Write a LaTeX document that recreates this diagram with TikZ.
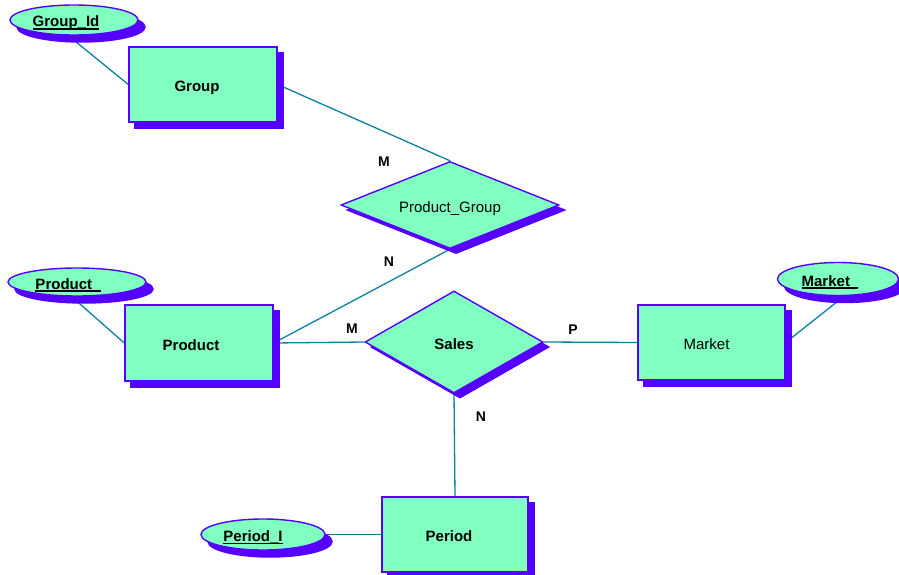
\documentclass[tikz,border=0pt]{standalone}
\usepackage{fontspec}
\setmainfont{Liberation Sans}
\usetikzlibrary{shapes.geometric,shadows,backgrounds}

\definecolor{entfill}{RGB}{128,255,192}
\definecolor{entedge}{RGB}{85,0,255}
\definecolor{linkc}{RGB}{10,128,165}

% underlined key attribute with a heavier rule
\newcommand\keyattr[1]{\setbox0\hbox{#1}\rlap{\rule[-2.6pt]{\wd0}{1.6pt}}\box0}

\tikzset{
  basefont/.style={font=\fontsize{15}{18}\selectfont, text height=14pt, text depth=0pt},
  entity/.style={rectangle, draw=entedge, line width=1.4pt, fill=entfill,
    inner sep=0pt, basefont,
    copy shadow={shadow xshift=6pt, shadow yshift=-6pt, draw=entedge, fill=entedge}},
  relation/.style={diamond, draw=entedge, line width=1.4pt, fill=entfill,
    inner sep=0pt, basefont,
    copy shadow={shadow xshift=6pt, shadow yshift=-5pt, draw=entedge, fill=entedge}},
  attrib/.style={ellipse, draw=entedge, line width=1.4pt, fill=entfill,
    inner sep=0pt, basefont,
    copy shadow={shadow xshift=7pt, shadow yshift=-7pt, draw=entedge, fill=entedge}},
  link/.style={draw=linkc, line width=1.3pt},
  card/.style={font=\fontsize{14}{16}\selectfont\bfseries, inner sep=0pt}
}

\begin{document}
\begin{tikzpicture}[x=1pt,y=-1pt]
\useasboundingbox (0,0) rectangle (899,575);

% entities
\node[entity, minimum width=148pt, minimum height=75pt] (group)   at (203,84.5) {\bfseries Group\kern12pt};
\node[entity, minimum width=148pt, minimum height=76pt] (product) at (199,343)  {\bfseries Product\kern16pt};
\node[entity, minimum width=147pt, minimum height=75pt] (market)  at (711.5,342.5) {Market\kern10pt};
\node[entity, minimum width=146pt, minimum height=75pt] (period)  at (455,534.5) {\bfseries Period\kern12pt};

% relationships
\node[relation, aspect=2.5, minimum width=218pt, minimum height=87pt] (pg) at (450,205) {Product\_Group};
\node[relation, aspect=1.75, minimum width=178pt, minimum height=102pt] (sales) at (454,342) {\bfseries Sales};

% key attributes
\node[attrib, minimum width=128pt, minimum height=30pt] (gid) at (74,20)  {\bfseries\keyattr{Group\_Id}\kern16pt};
\node[attrib, minimum width=138pt, minimum height=28pt] (pid) at (77,282) {\bfseries\keyattr{Product\_}\kern18pt};
\node[attrib, minimum width=121pt, minimum height=33pt] (mid) at (838,279) {\bfseries\keyattr{Market\_}\kern16pt};
\node[attrib, minimum width=124pt, minimum height=31pt] (tid) at (263,534.5) {\bfseries\keyattr{Period\_I}\kern20pt};

% connectors behind the shapes
\begin{pgfonlayer}{background}
  \draw[link] (gid.250) -- (group.west);
  \draw[link] (group.east) -- (pg.north);
  \draw[link] (product.east) -- (pg.south);
  \draw[link] (pid.250) -- (product.west);
  \draw[link] (product.east) -- (sales.west);
  \draw[link] (sales.east) -- (market.west);
  \draw[link] (mid.290) -- (market.east);
  \draw[link] (sales.south) -- (period.north);
  \draw[link] (tid.east) -- (period.west);
\end{pgfonlayer}

% cardinalities
\node[card] (c1) at (384,162) {M};
\node[card] (c2) at (389,262) {N};
\node[card] (c3) at (352,329) {M};
\node[card] (c4) at (573,330) {P};
\node[card] (c5) at (481,417) {N};
\end{tikzpicture}
\end{document}
